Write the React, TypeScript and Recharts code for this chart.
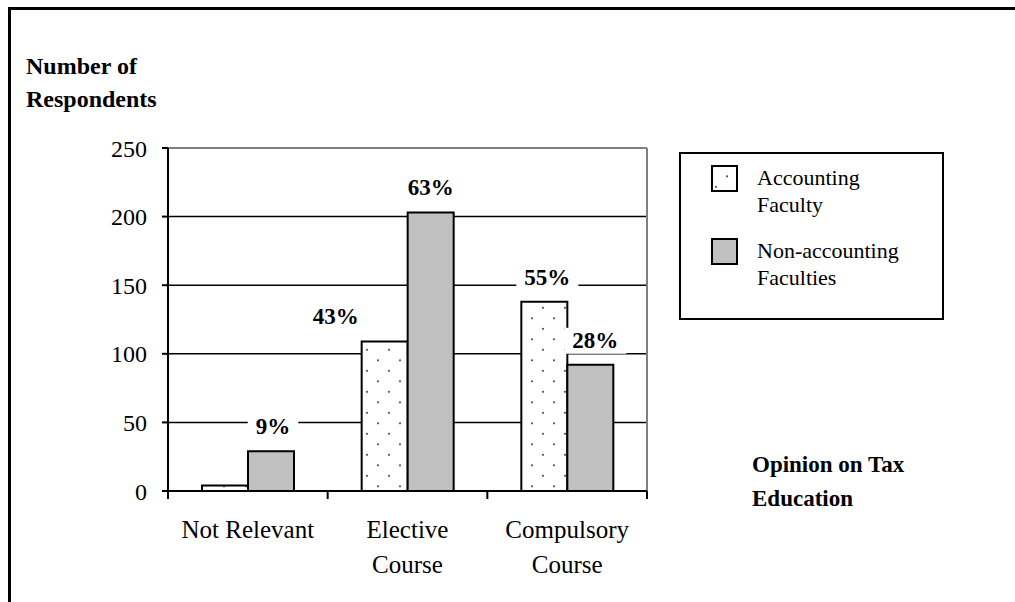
import { Bar, BarChart, CartesianGrid, Label, LabelList, Legend, XAxis, YAxis } from "recharts";

// categories read left to right
const categories = ["Not Relevant", "Elective\nCourse", "Compulsory\nCourse"];
const accountingFaculty = [4, 109, 138];
const nonAccountingFaculties = [29, 203, 92];
const accountingPct = ["", "43%", "55%"];
const nonAccountingPct = ["9%", "63%", "28%"];
const yTicks = [0, 50, 100, 150, 200, 250];

const data = categories.map((c, i) => ({
  category: c,
  acc: accountingFaculty[i],
  non: nonAccountingFaculties[i],
  accPct: accountingPct[i],
  nonPct: nonAccountingPct[i],
}));

const W = 1015;
const H = 602;
const margin = { top: 148, right: 368, bottom: 0, left: 108 };
const Y_W = 60;
const X_H = 111;
const PLOT_W = W - margin.left - Y_W - margin.right;
const serif = "Liberation Serif, Tinos, Times New Roman, Times, DejaVu Serif, serif";

// the 43% label sits off to the left of its bar in the original
const accShift = [0, -49, 3];
const nonShift = [2, 0, 5];

function pctLabel(shift: number[]) {
  return (props: any) => {
    const vb = props.viewBox ?? {};
    const x = props.x ?? vb.x;
    const y = props.y ?? vb.y;
    const width = props.width ?? vb.width;
    const { value, index } = props;
    if (!value) return null;
    const cx = x + width / 2 + (shift[index] ?? 0);
    const base = y - 17;
    const w = (String(value).length - 1) * 11.5 + 23 + 16;
    return (
      <g>
        <rect x={cx - w / 2} y={base - 20} width={w} height={26} fill="#fff" />
        <text x={cx} y={base} textAnchor="middle" fontFamily={serif} fontWeight="bold" fontSize={23} fill="#000">
          {value}
        </text>
      </g>
    );
  };
}

const XTick = (props: any) => {
  const { x, y, payload, index } = props;
  const band = PLOT_W / categories.length;
  const lines = String(payload.value).split("\n");
  return (
    <g>
      <line x1={x - band / 2} x2={x - band / 2} y1={y} y2={y + 8} stroke="#000" strokeWidth={2} />
      {index === categories.length - 1 && (
        <line x1={x + band / 2} x2={x + band / 2} y1={y} y2={y + 8} stroke="#000" strokeWidth={2} />
      )}
      <text x={x} y={y + 47} textAnchor="middle" fontFamily={serif} fontSize={25} fill="#000">
        {lines.map((l, i) => (
          <tspan key={i} x={x} dy={i === 0 ? 0 : 35}>
            {l}
          </tspan>
        ))}
      </text>
    </g>
  );
};

const renderLegend = (props: any) => {
  const items = props.payload ?? [];
  return (
    <svg width={265} height={168} style={{ display: "block" }}>
      <rect x={1} y={1} width={263} height={166} fill="#fff" stroke="#000" strokeWidth={2} />
      {items.map((it: any, i: number) => {
        const top = 14 + i * 73;
        const name = String(it.value);
        const cut = name.indexOf(" ");
        return (
          <g key={i}>
            <rect x={33} y={top} width={25} height={25} fill={it.color} stroke="#000" strokeWidth={2} />
            <text fontFamily={serif} fontSize={22} fill="#000">
              <tspan x={78} y={top + 19}>{name.slice(0, cut)}</tspan>
              <tspan x={78} y={top + 46}>{name.slice(cut + 1)}</tspan>
            </text>
          </g>
        );
      })}
    </svg>
  );
};

export default function App() {
  return (
    <div style={{ position: "fixed", left: 0, top: 0, width: W, height: H, background: "#fff" }}>
      <div
        style={{
          position: "absolute",
          left: 8,
          top: 7,
          width: 1200,
          height: 800,
          borderTop: "3px solid #000",
          borderLeft: "3px solid #000",
        }}
      />
      <div style={{ position: "absolute", left: 0, top: 0 }}>
        <BarChart width={W} height={H} data={data} margin={margin} barCategoryGap={34} barGap={0}>
          <defs>
            <pattern id="dots" width={22} height={21} patternUnits="userSpaceOnUse">
              <rect width={22} height={21} fill="#fff" />
              <circle cx={4} cy={3.3} r={1.1} fill="#555" />
              <circle cx={15} cy={13.8} r={1.1} fill="#555" />
            </pattern>
          </defs>
          <CartesianGrid vertical={false} stroke="#000" strokeWidth={1.5} />
          <CartesianGrid
            stroke="#808080"
            strokeWidth={2}
            horizontalCoordinatesGenerator={({ offset }: any) => [offset.top]}
            verticalCoordinatesGenerator={({ offset }: any) => [offset.left + offset.width]}
          />
          <XAxis
            dataKey="category"
            height={X_H}
            interval={0}
            tickSize={0}
            tickMargin={0}
            tickLine={false}
            tick={<XTick />}
            axisLine={{ stroke: "#000", strokeWidth: 2 }}
          >
            <Label
              content={() => (
                <text fontFamily={serif} fontWeight="bold" fontSize={23} fill="#000">
                  <tspan x={752} y={472}>Opinion on Tax</tspan>
                  <tspan x={752} y={506}>Education</tspan>
                </text>
              )}
            />
          </XAxis>
          <YAxis
            width={Y_W}
            domain={[0, 250]}
            ticks={yTicks}
            interval={0}
            tickSize={6}
            tickMargin={15}
            tick={{ fill: "#000", fontSize: 24, fontFamily: serif }}
            tickLine={{ stroke: "#000", strokeWidth: 2 }}
            axisLine={{ stroke: "#000", strokeWidth: 2 }}
          >
            <Label
              content={() => (
                <text fontFamily={serif} fontWeight="bold" fontSize={24} fill="#000">
                  <tspan x={26} y={74}>Number of</tspan>
                  <tspan x={26} y={107}>Respondents</tspan>
                </text>
              )}
            />
          </YAxis>
          <Legend
            layout="vertical"
            align="center"
            verticalAlign="middle"
            width={265}
            height={168}
            wrapperStyle={{ left: 679, top: 152, width: 265, height: 168 }}
            content={renderLegend}
          />
          <Bar dataKey="acc" name="Accounting Faculty" fill="url(#dots)" stroke="#000" strokeWidth={2} isAnimationActive={false}>
            <LabelList dataKey="accPct" content={pctLabel(accShift)} />
          </Bar>
          <Bar dataKey="non" name="Non-accounting Faculties" fill="#c0c0c0" stroke="#000" strokeWidth={2} isAnimationActive={false}>
            <LabelList dataKey="nonPct" content={pctLabel(nonShift)} />
          </Bar>
        </BarChart>
      </div>
    </div>
  );
}
